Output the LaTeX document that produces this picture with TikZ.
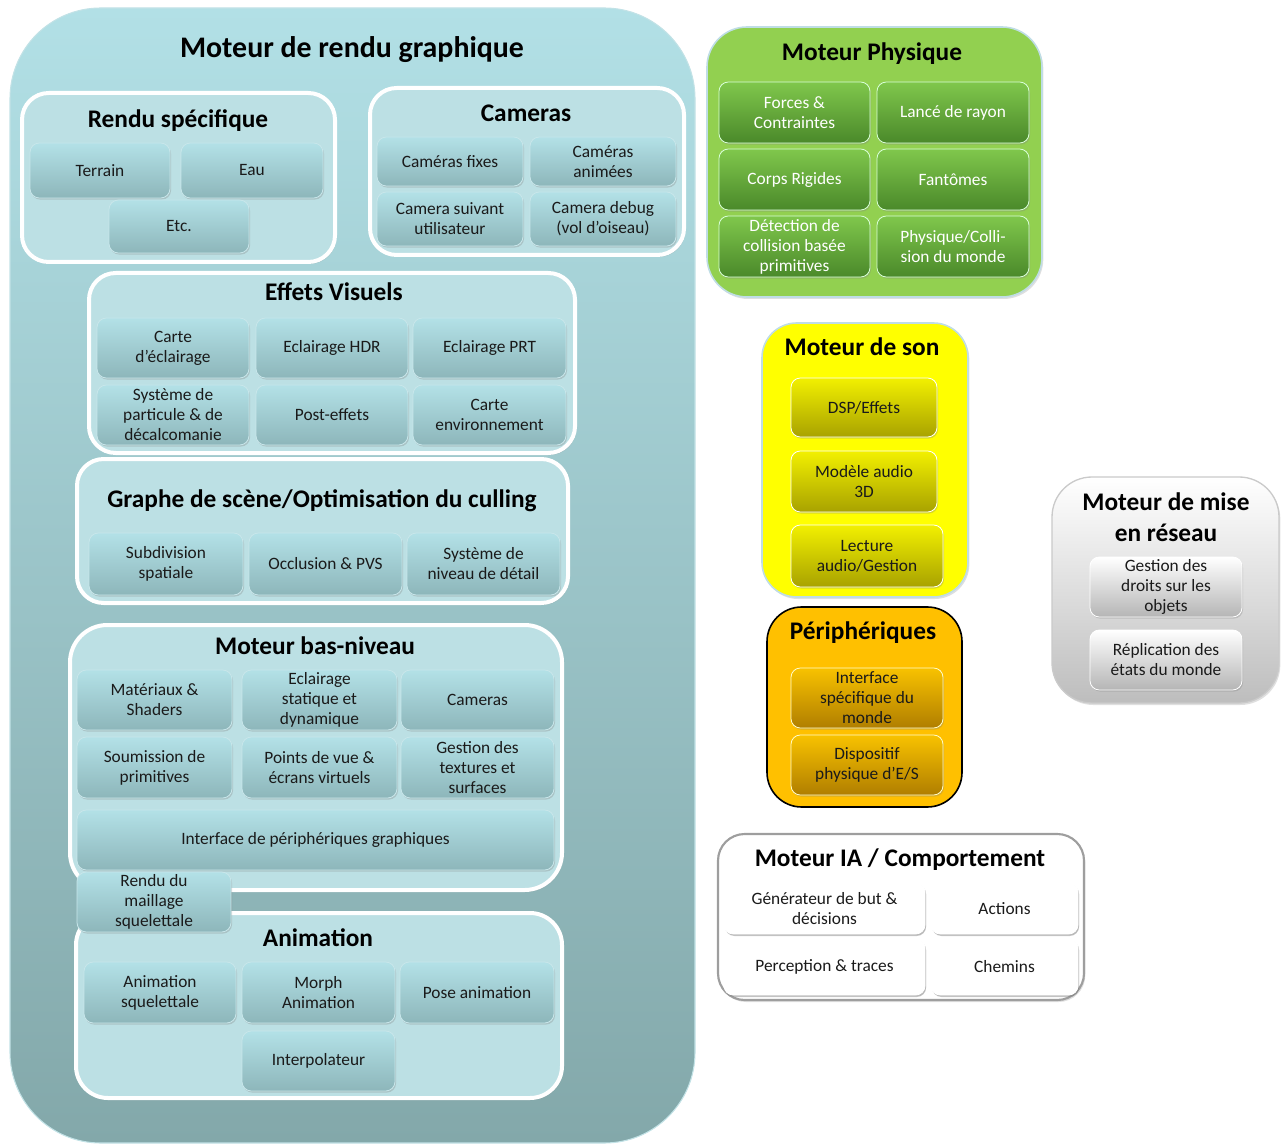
\documentclass[tikz,border=0pt]{standalone}
\usepackage{fontspec}
\setmainfont{Carlito}
\usetikzlibrary{shadows}
\definecolor{gfxtop}{HTML}{B2E0E6}
\definecolor{gfxbot}{HTML}{83A8AA}
\definecolor{gfxedge}{HTML}{C2E2E6}
\definecolor{subfill}{HTML}{BCE0E4}
\definecolor{celltop}{HTML}{B3E1E7}
\definecolor{cellbot}{HTML}{8DB6BA}
\definecolor{celledge}{HTML}{C8E6EA}
\definecolor{phyfill}{HTML}{92D050}
\definecolor{phytop}{HTML}{80C74C}
\definecolor{phybot}{HTML}{4A892A}
\definecolor{sonfill}{HTML}{FFFF00}
\definecolor{sontop}{HTML}{F2F000}
\definecolor{sonbot}{HTML}{A8A200}
\definecolor{perfill}{HTML}{FFC000}
\definecolor{pertop}{HTML}{F8C200}
\definecolor{perbot}{HTML}{B07E00}
\definecolor{nettop}{HTML}{FFFFFF}
\definecolor{netbot}{HTML}{BDBDBD}
\definecolor{netcbot}{HTML}{B5B5B5}
\definecolor{lightedge}{HTML}{BFDDE5}
\definecolor{txt}{HTML}{1A1A1A}
\newcommand\mkcell[7]{%
  \pgfmathsetmacro\mkW{(#5-#3)*0.75}%
  \pgfmathsetmacro\mkH{(#6-#4)*0.75}%
  \pgfmathsetmacro\mkX{(#3+#5)/2}%
  \pgfmathsetmacro\mkY{(#4+#6)/2}%
  \node[#1, minimum width=\mkW pt, minimum height=\mkH pt] (#2) at (\mkX,\mkY) {#7};}
\newcommand\mkbox[6]{\mkcell{#1}{#2}{#3}{#4}{#5}{#6}{}}
\begin{document}
\begin{tikzpicture}[x=0.75pt,y=-0.75pt,
  every node/.style={inner sep=0pt, outer sep=0pt},
  bigtitle/.style={font=\fontsize{22.4}{26}\bfseries\selectfont, text=black, align=center},
  sectitle/.style={font=\fontsize{19}{23}\bfseries\selectfont, text=black, align=center},
  outerbox/.style={rectangle, rounded corners=68pt, top color=gfxtop, bottom color=gfxbot, draw=gfxedge, line width=0.8pt},
  subbox/.style={rectangle, rounded corners=20pt, fill=subfill, draw=white, line width=3pt,
     drop shadow={shadow xshift=1pt, shadow yshift=-1.5pt, opacity=0.25}},
  cellbase/.style={rectangle, rounded corners=7pt, align=center, line width=0.6pt,
     font=\fontsize{13}{15}\selectfont,
     drop shadow={shadow xshift=0.8pt, shadow yshift=-1.2pt, opacity=0.3}},
  gcell/.style={cellbase, top color=celltop, bottom color=cellbot, draw=celledge, text=txt},
  pcell/.style={cellbase, top color=phytop, bottom color=phybot, draw=white!85!green, text=white},
  scell/.style={cellbase, top color=sontop, bottom color=sonbot, draw=white, text=txt},
  rcell/.style={cellbase, top color=pertop, bottom color=perbot, draw=white!80!yellow, text=txt},
  ncell/.style={cellbase, top color=nettop, bottom color=netcbot, draw=white, text=txt},
  icell/.style={cellbase, fill=white, draw=white, text=txt,
     drop shadow={shadow xshift=0.8pt, shadow yshift=-1.5pt, opacity=0.35}},
]
\useasboundingbox (0,0) rectangle (1287,1144);

% ---------------- Graphics engine ----------------
\mkbox{outerbox}{gfx}{10}{8}{695}{1143}
\node[bigtitle] (gfxt) at (352,50) {Moteur de rendu graphique};

% Rendu specifique
\mkbox{subbox}{rs}{22}{93}{335}{262}
\node[sectitle] (rst) at (178,121) {Rendu spécifique};
\mkcell{gcell}{terrain}{30}{143}{170}{198}{Terrain}
\mkcell{gcell}{eau}{181}{143}{323}{198}{Eau}
\mkcell{gcell}{etc}{109}{200}{249}{253}{Etc.}

% Cameras
\mkbox{subbox}{cam}{370}{88}{684}{255}
\node[sectitle] (camt) at (526,113) {Cameras};
\mkcell{gcell}{camfix}{377}{137}{523}{186}{Caméras fixes}
\mkcell{gcell}{camanim}{530}{137}{676}{186}{Caméras\\animées}
\mkcell{gcell}{camsuiv}{377}{192}{523}{246}{Camera suivant\\utilisateur}
\mkcell{gcell}{camdbg}{530}{192}{676}{246}{Camera debug\\(vol d’oiseau)}

% Effets visuels
\mkbox{subbox}{ev}{89}{273}{575}{453}
\node[sectitle] (evt) at (334,292) {Effets Visuels};
\mkcell{gcell}{carte}{97}{318}{249}{378}{Carte\\d’éclairage}
\mkcell{gcell}{hdr}{256}{318}{408}{378}{Eclairage HDR}
\mkcell{gcell}{prt}{413}{318}{566}{378}{Eclairage PRT}
\mkcell{gcell}{part}{97}{385}{249}{445}{Système de\\particule \& de\\décalcomanie}
\mkcell{gcell}{post}{256}{385}{408}{445}{Post-effets}
\mkcell{gcell}{env}{413}{385}{566}{445}{Carte\\environnement}

% Graphe de scene
\mkbox{subbox}{gs}{77}{459}{568}{603}
\node[sectitle] (gst) at (322,501) {Graphe de scène/Optimisation du culling};
\mkcell{gcell}{subd}{89}{533}{243}{595}{Subdivision\\spatiale}
\mkcell{gcell}{occl}{249}{533}{402}{595}{Occlusion \& PVS}
\mkcell{gcell}{lod}{407}{533}{560}{595}{Système de\\niveau de détail}

% Moteur bas-niveau
\mkbox{subbox, rounded corners=28pt}{bn}{70}{625}{562}{890}
\node[sectitle] (bnt) at (315,646) {Moteur bas-niveau};
\mkcell{gcell}{mat}{77}{670}{232}{730}{Matériaux \&\\Shaders}
\mkcell{gcell}{ecl}{242}{670}{397}{730}{Eclairage\\statique et\\dynamique}
\mkcell{gcell}{bncam}{401}{670}{554}{730}{Cameras}
\mkcell{gcell}{soum}{77}{737}{232}{798}{Soumission de\\primitives}
\mkcell{gcell}{pts}{242}{737}{397}{798}{Points de vue \&\\écrans virtuels}
\mkcell{gcell}{tex}{401}{737}{554}{798}{Gestion des\\textures et\\surfaces}
\mkcell{gcell}{ipg}{77}{810}{554}{870}{Interface de périphériques graphiques}

% Animation
\mkbox{subbox, rounded corners=24pt}{anim}{76}{913}{562}{1098}
\node[sectitle] (animt) at (318,938) {Animation};
\mkcell{gcell}{asq}{84}{962}{236}{1023}{Animation\\squelettale}
\mkcell{gcell}{morph}{242}{962}{395}{1023}{Morph\\Animation}
\mkcell{gcell}{pose}{400}{962}{554}{1023}{Pose animation}
\mkcell{gcell}{interp}{242}{1031}{395}{1091}{Interpolateur}

\mkcell{gcell}{maill}{77}{872}{231}{932}{Rendu du\\maillage\\squelettale}

% ---------------- Physics ----------------
\mkbox{rectangle, rounded corners=30pt, fill=phyfill, draw=lightedge, line width=1.2pt,
  drop shadow={shadow xshift=1pt, shadow yshift=-1.5pt, opacity=0.25}}{phy}{707}{27}{1042}{297}
\node[sectitle] (phyt) at (872,54) {Moteur Physique};
\mkcell{pcell}{forces}{719}{82}{870}{143}{Forces \&\\Contraintes}
\mkcell{pcell}{rayon}{877}{82}{1029}{143}{Lancé de rayon}
\mkcell{pcell}{corps}{719}{149}{870}{210}{Corps Rigides}
\mkcell{pcell}{fant}{877}{149}{1029}{210}{Fantômes}
\mkcell{pcell}{detect}{719}{216}{870}{277}{Détection de\\collision basée\\primitives}
\mkcell{pcell}{coll}{877}{216}{1029}{277}{Physique/Colli-\\sion du monde}

% ---------------- Sound ----------------
\mkbox{rectangle, rounded corners=26pt, fill=sonfill, draw=lightedge, line width=1.2pt,
  drop shadow={shadow xshift=1pt, shadow yshift=-1.5pt, opacity=0.25}}{son}{762}{323}{968}{597}
\node[sectitle] (sont) at (862,347) {Moteur de son};
\mkcell{scell}{dsp}{791}{378}{937}{437}{DSP/Effets}
\mkcell{scell}{modele}{791}{451}{937}{512}{Modèle audio\\3D}
\mkcell{scell}{lect}{791}{525}{943}{587}{Lecture\\audio/Gestion}

% ---------------- Peripheriques ----------------
\mkbox{rectangle, rounded corners=26pt, fill=perfill, draw=black, line width=1.2pt}{per}{767}{607}{962}{807}
\node[sectitle] (pert) at (863,633) {Périphériques};
\mkcell{rcell}{ispec}{791}{668}{943}{728}{Interface\\spécifique du\\monde}
\mkcell{rcell}{disp}{791}{735}{943}{795}{Dispositif\\physique d’E/S}

% ---------------- Network ----------------
\mkbox{rectangle, rounded corners=30pt, top color=nettop, bottom color=netbot, draw=netbot!80!white, line width=1pt,
  drop shadow={shadow xshift=1pt, shadow yshift=-1.5pt, opacity=0.25}}{net}{1052}{477}{1279}{703}
\node[sectitle, font=\fontsize{19}{23.5}\bfseries\selectfont] (nett) at (1166,517) {Moteur de mise\\en réseau};
\mkcell{ncell}{droits}{1090}{557}{1242}{617}{Gestion des\\droits sur les\\objets}
\mkcell{ncell}{repl}{1090}{630}{1242}{690}{Réplication des\\états du monde}

% ---------------- AI ----------------
\mkbox{rectangle, rounded corners=20pt, fill=white, draw=black!38, line width=1.6pt,
  drop shadow={shadow xshift=1pt, shadow yshift=-1.5pt, opacity=0.25}}{ia}{718}{834}{1084}{1000}
\node[sectitle] (iat) at (900,860) {Moteur IA / Comportement};
\mkcell{icell}{gen}{724}{883}{925}{934}{Générateur de but \&\\décisions}
\mkcell{icell}{act}{931}{883}{1078}{934}{Actions}
\mkcell{icell}{perc}{724}{939}{925}{995}{Perception \& traces}
\mkcell{icell}{chem}{931}{939}{1078}{995}{Chemins}
\end{tikzpicture}
\end{document}
